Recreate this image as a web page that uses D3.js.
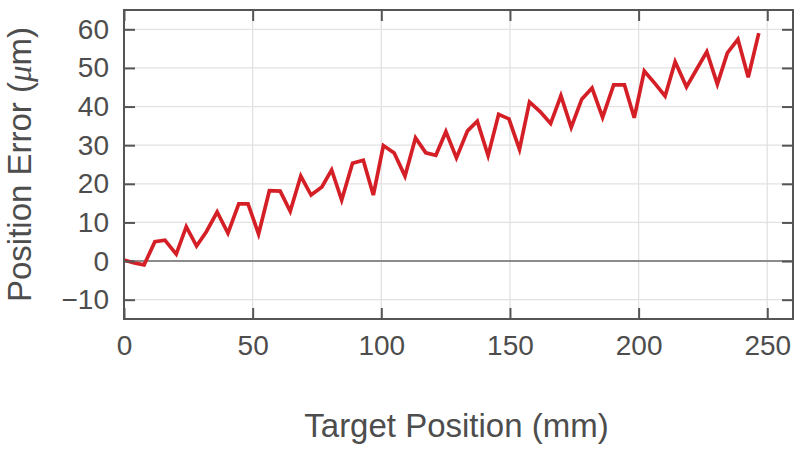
<!DOCTYPE html>
<html>
<head>
<meta charset="utf-8" />
<title>Position Error vs Target Position</title>
<script src="https://d3js.org/d3.v7.min.js"></script>
<style>
    body { margin: 0; background: #fff; }
    text { font-family: "Liberation Sans", Arial, sans-serif; fill: #4d4d4d; }
</style>
</head>
<body>
<div id="chart"></div>
<script>
const targetPos = [0, 4, 7.8, 12.0, 15.9, 20.3, 24.2, 28.2, 32.0, 36.2, 40.4, 44.6, 48.2, 52.3, 56.5, 60.7,
    64.6, 68.7, 72.7, 76.9, 80.7, 84.6, 88.8, 93.0, 96.9, 100.8, 105.0, 109.2, 113.3, 117.3, 121.2,
    125.1, 129.2, 133.5, 137.3, 141.5, 145.6, 149.6, 153.7, 157.6, 161.7, 165.8, 169.8, 173.8, 177.9,
    181.9, 186.0, 190.3, 194.5, 198.3, 202.2, 206.3, 210.3, 214.2, 218.6, 222.5, 226.5, 230.6, 234.5,
    238.6, 242.6, 246.7];
const posError = [0.3, -0.5, -1.0, 5.0, 5.4, 1.8, 8.9, 3.9, 7.6, 12.7, 7.2, 14.8, 14.8, 7.0, 18.2, 18.1,
    12.9, 22.0, 17.1, 19.2, 23.6, 15.8, 25.3, 26.1, 17.1, 29.9, 28.0, 22.0, 31.9, 28.0, 27.4,
    33.5, 26.7, 33.7, 36.2, 27.3, 38.0, 36.8, 28.9, 41.2, 38.7, 35.6, 42.8, 34.6, 41.9,
    44.8, 37.2, 45.6, 45.6, 37.1, 49.2, 46.0, 42.7, 51.6, 45.1, 49.6, 54.2, 45.8, 53.9,
    57.4, 47.6, 59.0];
const xTicks = [0, 50, 100, 150, 200, 250];
const yTicks = [-10, 0, 10, 20, 30, 40, 50, 60];

const width = 800, height = 450;
const margin = { top: 10, right: 7, bottom: 131, left: 124 };
const iw = width - margin.left - margin.right;
const ih = height - margin.top - margin.bottom;

const svg = d3.select("#chart").append("svg")
    .attr("width", width)
    .attr("height", height);

const g = svg.append("g")
    .attr("transform", `translate(${margin.left},${margin.top})`);

const x = d3.scaleLinear().domain([0, 260]).range([0, iw]);
const y = d3.scaleLinear().domain([-15, 65]).range([ih, 0]);

// grid
g.append("g").selectAll("line.vg")
    .data(xTicks.filter(d => d > 0))
    .enter().append("line")
    .attr("x1", d => x(d)).attr("x2", d => x(d))
    .attr("y1", 0).attr("y2", ih)
    .attr("stroke", "#e2e2e2").attr("stroke-width", 1.3);

g.append("g").selectAll("line.hg")
    .data(yTicks.filter(d => d !== 0))
    .enter().append("line")
    .attr("x1", 0).attr("x2", iw)
    .attr("y1", d => y(d)).attr("y2", d => y(d))
    .attr("stroke", "#e2e2e2").attr("stroke-width", 1.3);

// zero line
g.append("line")
    .attr("x1", 0).attr("x2", iw)
    .attr("y1", y(0)).attr("y2", y(0))
    .attr("stroke", "#8c8c8c").attr("stroke-width", 2);

// data line
const pts = targetPos.map((d, i) => [d, posError[i]]);
g.append("path")
    .datum(pts)
    .attr("fill", "none")
    .attr("stroke", "#d41f26")
    .attr("stroke-width", 3.7)
    .attr("stroke-linejoin", "miter")
    .attr("d", d3.line().x(d => x(d[0])).y(d => y(d[1])));

// axes (inward ticks on all four sides)
const tl = 11;
const axBottom = g.append("g").attr("transform", `translate(0,${ih})`)
    .call(d3.axisBottom(x).tickValues(xTicks).tickSize(-tl).tickPadding(16));
const axTop = g.append("g")
    .call(d3.axisTop(x).tickValues(xTicks).tickSize(-tl).tickFormat(""));
const axLeft = g.append("g")
    .call(d3.axisLeft(y).tickValues(yTicks).tickSize(-tl).tickPadding(15)
        .tickFormat(d => d < 0 ? "\u2212" + Math.abs(d) : d));
const axRight = g.append("g").attr("transform", `translate(${iw},0)`)
    .call(d3.axisRight(y).tickValues(yTicks).tickSize(-tl).tickFormat(""));

[axBottom, axTop, axLeft, axRight].forEach(a => {
    a.select(".domain").remove();
    a.selectAll(".tick line").attr("stroke", "#555").attr("stroke-width", 2);
    a.selectAll("text").attr("fill", "#4d4d4d").style("font-size", "28px")
        .style("font-family", "'Liberation Sans', Arial, sans-serif");
});

// frame
g.append("rect")
    .attr("x", 0).attr("y", 0)
    .attr("width", iw).attr("height", ih)
    .attr("fill", "none")
    .attr("stroke", "#555").attr("stroke-width", 2);

// axis titles
svg.append("text")
    .attr("x", margin.left + iw / 2 - 2)
    .attr("y", 437)
    .attr("text-anchor", "middle")
    .style("font-size", "33px")
    .text("Target Position (mm)");

const yl = svg.append("text")
    .attr("transform", `translate(31,${margin.top + ih / 2}) rotate(-90)`)
    .attr("text-anchor", "middle")
    .style("font-size", "33px");
yl.append("tspan").text("Position Error (");
yl.append("tspan").style("font-style", "italic")
    .style("font-family", "'Liberation Serif', serif").text("\u03bc");
yl.append("tspan").text("m)");
</script>
</body>
</html>
